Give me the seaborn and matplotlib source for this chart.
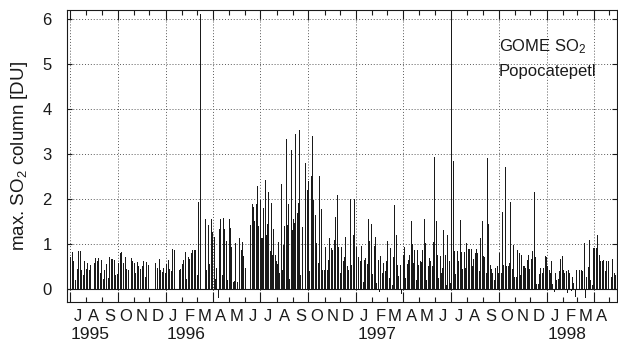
import numpy as np
import pandas as pd
import seaborn as sns
import matplotlib
matplotlib.use('Agg')
import matplotlib.pyplot as plt
import matplotlib.dates as mdates
import matplotlib.transforms as mtransforms

nan = np.nan

# max. SO2 column [DU], one list per quarter, in time order
# (nan = no observation)
q3_1995 = [0.70, 0.83, 0.61, 0.20, 0.44, 0.85, 0.85, 0.41, 0.31, 0.61, 0.44, 0.58, 0.42, 0.54, nan,
           0.58, 0.69, 0.63, 0.69, 0.36, 0.64, 0.21, 0.42, 0.56, 0.24, 0.71, 0.67, 0.66, 0.65, 0.31, 0.33]
q4_1995 = [0.57, 0.79, 0.83, 0.57, 0.72, 0.44, 0.42, nan, 0.68, 0.61, 0.57, 0.36, 0.59, 0.51, 0.44, 0.50,
           0.62, 0.27, 0.59, 0.53, nan, nan, nan, nan, 0.58, 0.47, 0.66, 0.42, 0.37, 0.47, 0.35]
q1_1996 = [0.55, 0.64, 0.44, 0.40, 0.88, 0.87, nan, nan, 0.42, 0.44, 0.55, 0.64, 0.81, 0.22, 0.70, 0.66,
           0.79, 0.87, 0.87, 0.87, 0.30, 1.94, 6.10, nan, nan, 1.56, 0.42, 1.42, 0.56, 1.56, 1.27]
q2_1996 = [1.16, 0.22, 0.46, -0.17, 1.33, 1.56, 0.30, 1.57, 1.33, 1.07, 0.20, 1.55, 1.35, 0.94, 0.16, 0.18,
           1.03, 0.16, nan, 1.13, 0.87, 1.04, 0.73, 0.47, nan, nan, nan, 1.42, 1.89, 1.83, 1.50, 1.89,
           2.29, 1.39, 1.98]
q3_1996 = [1.13, 1.13, 1.81, 2.42, 1.20, 1.44, 2.16, 0.85, 1.90, 0.76, 1.33, 0.76, 0.63, 0.56, 1.04, 0.35,
           2.33, 0.42, 0.98, 1.40, 3.33, 1.42, 1.89, 0.22, 3.09, 1.30, 1.56, 1.46, 3.44, 1.68, 1.90, 3.53,
           0.31, 1.37, nan, nan, 2.79, 2.21, 2.41]
q4_1996 = [0.40, 2.51, 3.40, 1.98, 1.64, 1.03, 0.57, 2.51, 1.77, 0.42, 0.41, 0.94, 0.42, 0.64, 1.13, 0.90,
           0.87, 1.09, 1.61, 2.09, 0.94, 0.35, 0.94, 0.61, 0.72, 1.16, 0.50, 0.42, 2.01, 0.53, 1.20, 2.01,
           0.94]
q1_1997 = [nan, 0.70, 0.63, 0.96, 0.16, 0.64, 0.68, 0.56, 1.56, 1.07, 1.44, 0.33, 0.96, 1.16, 0.13, 0.64,
           -0.04, 0.73, 0.35, 0.57, 0.39, 0.62, 1.07, 0.24, 0.90, 0.09, 0.70, 1.87, 1.20, 0.53, 0.29, 0.53,
           -0.10, 0.76]
q2_1997 = [0.93, 0.24, 0.56, 0.64, 0.76, 1.52, 1.00, 0.57, 0.87, 0.20, 0.87, 0.53, 0.61, 0.59, 0.87, 1.55,
           1.01, 0.20, 0.51, 0.68, 0.61, 0.51, 1.05, 2.94, 1.50, 0.76, 0.24, 0.73, 0.35, 0.46, 1.30, 0.76,
           0.09, 1.20, 0.61, 0.13]
q3_1997 = [6.20, 2.84, 0.84, 0.33, 0.84, 0.63, 1.53, 0.81, 0.44, 0.83, 0.47, 1.03, 0.89, 0.89, 0.89, 0.50,
           0.67, 0.79, 0.88, 0.79, 0.39, 1.13, 1.50, 0.73, 0.72, 0.35, 2.90, 1.44, 0.53, 0.44, 0.35, 0.20,
           0.46, 0.52, 0.35]
q4_1997 = [0.79, 0.35, 1.72, 0.53, 2.72, 0.51, 0.51, 0.57, 1.94, 0.44, 0.98, 0.27, 0.27, 0.87, 0.79, 0.31,
           0.76, 0.50, 0.50, 0.46, 0.64, 0.76, 0.44, 0.66, 0.84, 2.16, 0.72, 0.11, 0.10, 0.33, 0.47, 0.36,
           0.46, 0.73, 0.72]
q1_1998 = [0.51, 0.42, 0.35, 0.61, 0.11, -0.04, 0.36, 0.20, 0.21, 0.39, 0.66, 0.73, 0.42, 0.35, 0.40, -0.06,
           0.42, 0.35, -0.02, 0.26, 0.13, -0.16, 0.42, nan, 0.42, nan, 0.42, 0.39, 1.01, -0.17, 0.26, 0.48,
           1.09, 0.20, 0.09, 0.90]
q2_1998 = [0.90, 0.90, 1.20, 0.76, 0.63, 0.61, 0.64, 0.39, 0.61, 0.61, nan, 0.26, 0.66, 0.35, 0.31]

blocks = [
    ('1995-07-01', '1995-10-01', q3_1995),
    ('1995-10-01', '1996-01-01', q4_1995),
    ('1996-01-01', '1996-04-01', q1_1996),
    ('1996-04-01', '1996-07-01', q2_1996),
    ('1996-07-01', '1996-10-01', q3_1996),
    ('1996-10-01', '1997-01-01', q4_1996),
    ('1997-01-01', '1997-04-01', q1_1997),
    ('1997-04-01', '1997-07-01', q2_1997),
    ('1997-07-01', '1997-10-01', q3_1997),
    ('1997-10-01', '1998-01-01', q4_1997),
    ('1998-01-01', '1998-04-01', q1_1998),
    ('1998-04-01', '1998-05-14', q2_1998),
]

month_initials = list('JFMAMJJASOND')
year_labels = ['1995', '1996', '1997', '1998']

# spread each quarter's observations over its days
parts = []
for start, end, vals in blocks:
    t0, t1 = pd.Timestamp(start), pd.Timestamp(end)
    n = len(vals)
    secs = (np.arange(n) + 0.5) * (t1 - t0).total_seconds() / n
    parts.append(pd.DataFrame({'date': t0 + pd.to_timedelta(secs, unit='s'), 'so2': vals}))
df = pd.concat(parts, ignore_index=True).dropna()

sns.set_theme(style='ticks', rc={'text.color': 'k', 'axes.labelcolor': 'k',
                                 'xtick.color': 'k', 'ytick.color': 'k', 'axes.edgecolor': 'k'})
plt.rcParams['font.family'] = ['Liberation Sans', 'DejaVu Sans']
plt.rcParams['mathtext.fontset'] = 'custom'
plt.rcParams['mathtext.rm'] = 'Liberation Sans'
plt.rcParams['mathtext.it'] = 'Liberation Sans'

fig = plt.figure(figsize=(6.18, 3.42), dpi=100)
ax = fig.add_axes([0.1084, 0.117, 0.89, 0.8538])

ax.vlines(mdates.date2num(df['date']), 0, df['so2'], color='k', lw=0.72, antialiased=False)
ax.axhline(0, color='k', lw=0.8)

ax.set_xlim(pd.Timestamp('1995-06-26'), pd.Timestamp('1998-05-16'))
ax.set_ylim(-0.29, 6.2)
ax.set_yticks(range(0, 7))

ax.xaxis.set_major_locator(mdates.MonthLocator(bymonth=[1, 4, 7, 10]))
ax.xaxis.set_minor_locator(mdates.MonthLocator())
ax.xaxis.set_major_formatter(plt.NullFormatter())
ax.tick_params(axis='x', which='both', direction='in', top=True, bottom=True, color='k')
ax.tick_params(axis='x', which='major', length=7, width=0.8)
ax.tick_params(axis='x', which='minor', length=3.5, width=0.8)
ax.tick_params(axis='y', direction='in', left=True, right=True, length=3.5, width=0.8,
               labelsize=12, pad=11, colors='k')

ax.grid(True, which='major', color='0.35', linestyle=(0, (1, 2)), lw=0.7)
for s in ax.spines.values():
    s.set_color('k')
    s.set_linewidth(0.8)

# month letters and years under the axis
trans = mtransforms.blended_transform_factory(ax.transData, ax.transAxes)
months = pd.date_range('1995-07-01', '1998-04-01', freq='MS')
for m in months:
    ax.text(m + pd.Timedelta(days=15), -0.025, month_initials[m.month - 1], transform=trans,
            ha='center', va='top', fontsize=12)
for yl, first in zip(year_labels, ['1995-07-01', '1996-01-01', '1997-01-01', '1998-01-01']):
    ax.text(pd.Timestamp(first) + pd.Timedelta(days=40), -0.085, yl, transform=trans,
            ha='center', va='top', fontsize=12.5)

ax.set_ylabel('max. SO$_2$ column [DU]', fontsize=13.5, labelpad=9)

ax.text(0.785, 0.875, 'GOME SO$_2$', transform=ax.transAxes, fontsize=12, va='center', ha='left')
ax.text(0.785, 0.79, 'Popocatepetl', transform=ax.transAxes, fontsize=12, va='center', ha='left')

fig.savefig('out.png', dpi=100)
